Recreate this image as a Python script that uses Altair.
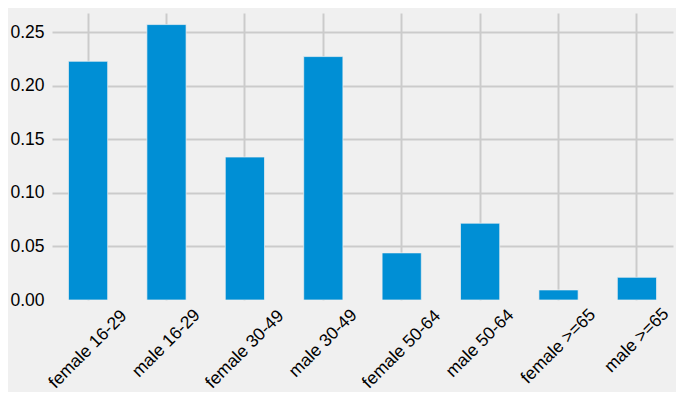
import altair as alt
import pandas as pd

categories = ["female 16-29", "male 16-29", "female 30-49", "male 30-49",
              "female 50-64", "male 50-64", "female >=65", "male >=65"]
shares = [0.2229, 0.2572, 0.1335, 0.2273, 0.0440, 0.0717, 0.0094, 0.0212]
y_ticks = [0.0, 0.05, 0.10, 0.15, 0.20, 0.25]

df = pd.DataFrame({"group": categories, "share": shares})

FONT = "Liberation Sans"

chart = alt.Chart(df).mark_bar(
    color="#008FD5", stroke="#f0f0f0", strokeWidth=0.7
).encode(
    x=alt.X("group:N", sort=categories, title=None,
            scale=alt.Scale(paddingInner=0.5, paddingOuter=0.21),
            axis=alt.Axis(labelAngle=-45, labelAlign="center", labelBaseline="middle",
                          labelPadding=alt.ExprRef("13 + 3*length(datum.label)"),
                          grid=True, gridColor="#cbcbcb", gridWidth=2,
                          bandPosition=0.5, ticks=False, tickSize=0,
                          domain=False, labelFont=FONT, labelFontSize=17.5,
                          labelColor="#000000")),
    y=alt.Y("share:Q", title=None,
            scale=alt.Scale(domain=[0, 0.268], nice=False, zero=True),
            axis=alt.Axis(values=y_ticks, format=".2f", grid=True,
                          gridColor="#cbcbcb", gridWidth=2,
                          gridOpacity={"condition": {"test": "datum.value == 0", "value": 0}, "value": 1},
                          ticks=False, tickSize=0, domain=False, labelPadding=8,
                          labelFont=FONT, labelFontSize=17.5, labelColor="#000000")),
).properties(
    width=621, height=287,
    background="#f0f0f0",
    padding={"left": 44, "top": 5, "right": 3, "bottom": 92},
    autosize=alt.AutoSizeParams(type="none"),
).configure_view(stroke=None, fill="#f0f0f0")

chart.save("out.html", embed_options={"renderer": "svg", "actions": False})
